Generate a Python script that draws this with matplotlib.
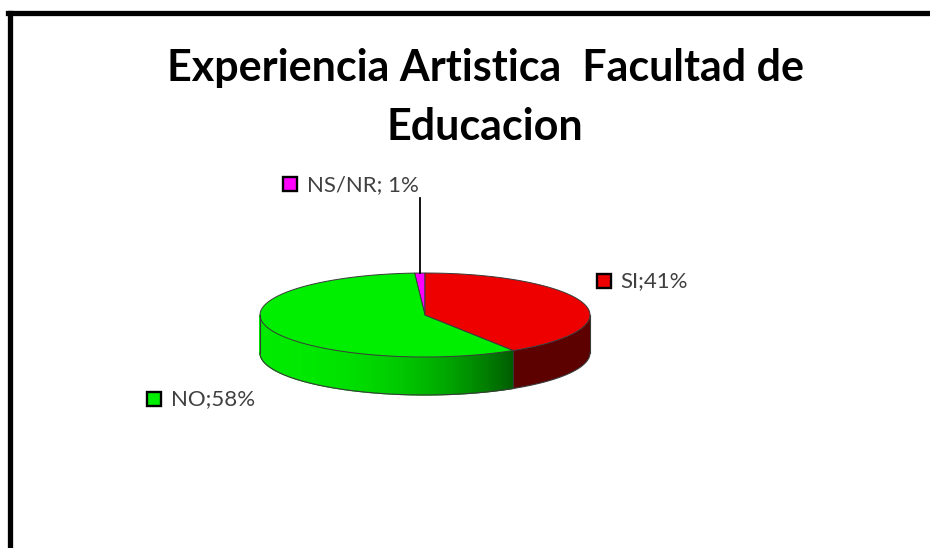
import numpy as np
from matplotlib import pyplot as plt
from matplotlib.patches import Polygon
from matplotlib.lines import Line2D

plt.rcParams['font.family'] = ['Lato', 'DejaVu Sans']

# --- data ---
title_lines = ['Experiencia Artistica  Facultad de', 'Educacion']
labels = ['NS/NR', 'NO', 'SI']
values = [1, 58, 41]
seps = ['; ', ';', ';']
top_colors = ['#ff00ff', '#00ee00', '#ee0000']
side_colors = ['#900090', 'gradient', '#5c0000']

# label anchor (square marker centre) in pixels
label_pos = [(289.5, 184), (153.5, 398.5), (603.5, 280.5)]

# pie geometry in pixels
cx, cy = 425, 315
rx, ry = 165, 42
depth = 38
edge = '#3a3a3a'


def ell(th):
    th = np.radians(th)
    return cx + rx * np.cos(th), cy - ry * np.sin(th)


def green_at(x):
    f = np.clip((x - (cx - rx)) / (rx * 1.55), 0, 1)
    g = 0.92 * (1 - 0.62 * f ** 2.4)
    return (0, g, 0)


fig = plt.figure(figsize=(9.3, 5.48), dpi=100)
ax = fig.add_axes([0, 0, 1, 1])
ax.set_xlim(0, 930)
ax.set_ylim(548, 0)
ax.axis('off')

# frame
ax.add_line(Line2D([10, 10], [12.5, 548], color='black', lw=3.8))
ax.add_line(Line2D([8.2, 930], [12.5, 12.5], color='black', lw=3.8))

for i, line in enumerate(title_lines):
    ax.text(485, [81, 140][i], line, ha='center', va='baseline',
        fontsize=31, fontweight='bold', color='black')

total = float(sum(values))
angles = [90.0]
for v in values:
    angles.append(angles[-1] + 360 * v / total)

# side walls (front half: 180..360 deg)
for i in range(len(values)):
    a0, a1 = max(angles[i], 180), min(angles[i + 1], 360)
    if a1 <= a0:
        continue
    if side_colors[i] == 'gradient':
        ts = np.linspace(a0, a1, 160)
        for t0, t1 in zip(ts[:-1], ts[1:]):
            x0, y0 = ell(t0)
            x1, y1 = ell(t1)
            c = green_at((x0 + x1) / 2)
            ax.add_patch(Polygon([(x0, y0), (x1, y1), (x1, y1 + depth), (x0, y0 + depth)],
                closed=True, facecolor=c, edgecolor=c, lw=0.8))
    else:
        ts = np.linspace(a0, a1, 80)
        xs, ys = ell(ts)
        pts = list(zip(xs, ys)) + list(zip(xs[::-1], ys[::-1] + depth))
        ax.add_patch(Polygon(pts, closed=True, facecolor=side_colors[i], edgecolor='none'))

# side outline
ts = np.linspace(180, 360, 200)
xs, ys = ell(ts)
ax.plot(xs, ys + depth, color=edge, lw=0.8)
ax.plot([cx - rx, cx - rx], [cy, cy + depth], color=edge, lw=0.8)
ax.plot([cx + rx, cx + rx], [cy, cy + depth], color=edge, lw=0.8)
for a in angles:
    a = a % 360
    if 180 < a < 360:
        x, y = ell(a)
        ax.plot([x, x], [y, y + depth], color=edge, lw=0.8)

# top faces
for i in range(len(values)):
    ts = np.linspace(angles[i], angles[i + 1], 150)
    xs, ys = ell(ts)
    pts = [(cx, cy)] + list(zip(xs, ys))
    ax.add_patch(Polygon(pts, closed=True, facecolor=top_colors[i], edgecolor=edge, lw=0.7))

# labels
for i in range(len(values)):
    lx, ly = label_pos[i]
    ax.plot([lx], [ly], marker='s', markersize=10, markerfacecolor=top_colors[i],
        markeredgecolor='black', markeredgewidth=1.7, linestyle='none')
    ax.text(lx + 17, ly + 1, '{}{}{}%'.format(labels[i], seps[i], values[i]),
        ha='left', va='center', fontsize=16, color='#404040')

# leader line for the small slice
mid = (angles[0] + angles[1]) / 2
mx, my = ell(mid)
ax.plot([mx, mx], [my, 198], color='black', lw=1.3)

plt.savefig('out.png', dpi=100)
